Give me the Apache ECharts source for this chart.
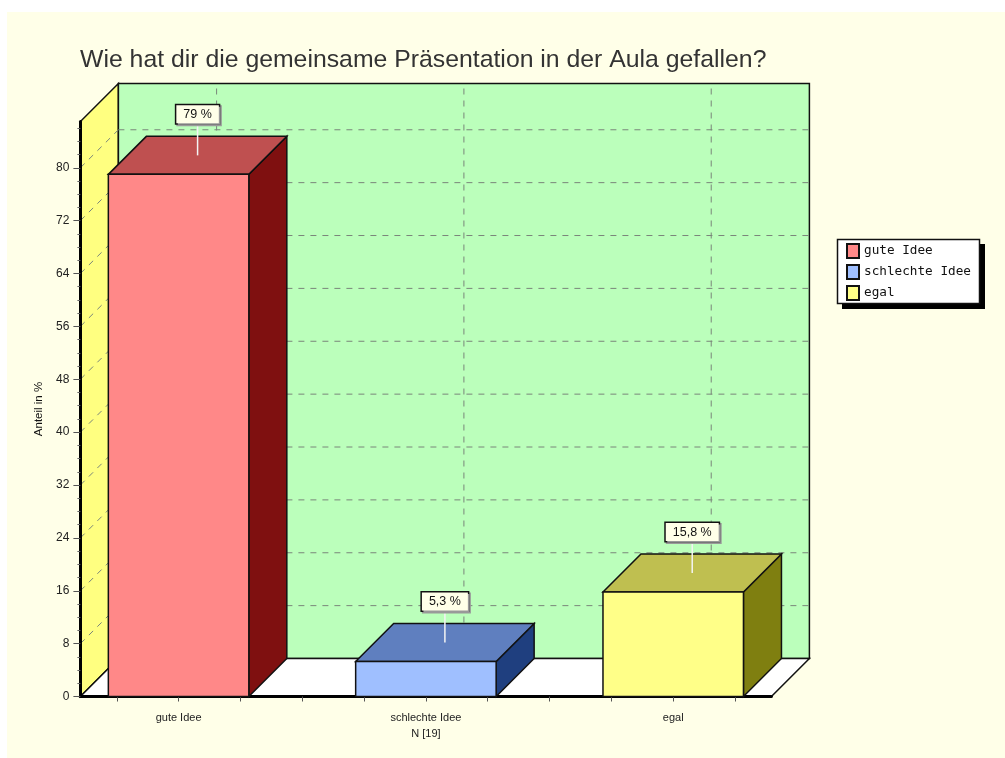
<!DOCTYPE html>
<html>
<head>
<meta charset="utf-8">
<style>html,body{margin:0;padding:0;background:#fff}#c{width:1005px;height:758px}</style>
<script src="https://cdn.jsdelivr.net/npm/echarts@6/dist/echarts.min.js"></script>
</head>
<body>
<div id="c"></div>
<script>
const titleText = 'Wie hat dir die gemeinsame Präsentation in der Aula gefallen?';
const categories = ['gute Idee', 'schlechte Idee\nN [19]', 'egal'];
const seriesNames = ['gute Idee', 'schlechte Idee', 'egal'];
const values = [79, 5.3, 15.8];
const valueLabels = ['79 %', '5,3 %', '15,8 %'];
const yTicks = [0, 8, 16, 24, 32, 40, 48, 56, 64, 72, 80];
const xTicks = [-0.25, 0, 0.25, 0.5, 0.75, 1, 1.25, 1.5, 1.75, 2, 2.25];
const xCenters = [0, 1, 2];
const yMax = 87;
const xMin = -0.397, xMax = 2.397;
const barHalf = 0.284;
const depth = 38;
const frontColors = ['#FF8888', '#9FBFFF', '#FFFF88'];
const topColors = ['#BF5050', '#5F7FBF', '#BFBF50'];
const sideColors = ['#7F1010', '#1F3F7F', '#7F7F10'];

const chart = echarts.init(document.getElementById('c'), null, {renderer: 'canvas'});

function poly(points, fill, z2) {
  return {type: 'polygon', z2: z2 || 0, shape: {points}, style: {fill, stroke: '#111', lineWidth: 1.5, lineJoin: 'miter'}};
}
function dashed(a, b) {
  return {type: 'line', z2: 5, shape: {x1: a[0], y1: a[1], x2: b[0], y2: b[1]},
    style: {stroke: '#7a867a', lineWidth: 1, lineDash: [6, 6]}};
}
function renderWalls(params, api) {
  const o = api.coord([xMin, 0]);
  const tl = api.coord([xMin, yMax]);
  const br = api.coord([xMax, 0]);
  const back = (p) => [p[0] + depth, p[1] - depth];
  const children = [
    poly([o, back(o), back(tl), tl], '#FFFF80'),
    poly([back(o), back([br[0], o[1]]), [br[0] + depth, tl[1] - depth], back(tl)], '#BBFFBB'),
    poly([o, back(o), back(br), br], '#FFFFFF')
  ];
  yTicks.slice(1).forEach(v => {
    const p = api.coord([xMin, v]);
    const q = api.coord([xMax, v]);
    children.push(dashed(p, back(p)));
    children.push(dashed(back(p), back(q)));
  });
  xCenters.forEach(c => {
    const p = api.coord([c, 0]);
    const q = api.coord([c, yMax]);
    children.push(dashed(back(p), back(q)));
  });
  return {type: 'group', children};
}
function renderBar(i) {
  return function (params, api) {
    const x = api.value(0), v = api.value(1);
    const a = api.coord([x - barHalf, 0]);
    const b = api.coord([x + barHalf, 0]);
    const c = api.coord([x + barHalf, v]);
    const d = api.coord([x - barHalf, v]);
    const s = (p) => [p[0] + depth, p[1] - depth];
    const mx = (d[0] + c[0]) / 2 + depth / 2;
    const my = d[1] - depth / 2;
    return {type: 'group', children: [
      poly([b, s(b), s(c), c], sideColors[i], 1),
      poly([d, c, s(c), s(d)], topColors[i], 1),
      poly([a, b, c, d], frontColors[i], 2),
      {type: 'line', z2: 3, shape: {x1: mx, y1: my, x2: mx, y2: my - 32},
        style: {stroke: '#F4F4F4', lineWidth: 1.5}},
      {type: 'text', z2: 4, x: mx, y: my - 32, style: {
        text: valueLabels[i], align: 'center', verticalAlign: 'bottom',
        font: '12.5px "Liberation Sans"', fill: '#111',
        backgroundColor: '#FFFFE8', borderColor: '#111', borderWidth: 1.5,
        padding: [3, 7, 2, 7], shadowColor: '#999', shadowOffsetX: 1.5, shadowOffsetY: 1.5, shadowBlur: 0
      }}
    ]};
  };
}

const barSeries = seriesNames.map((name, i) => ({
  type: 'custom', name, z: 4, clip: false,
  itemStyle: {color: frontColors[i], borderColor: '#111', borderWidth: 1},
  renderItem: renderBar(i),
  encode: {x: 0, y: 1},
  data: [[xCenters[i], values[i]]]
}));

chart.setOption({
  animation: false,
  backgroundColor: '#FFFFFF',
  graphic: [
    {type: 'rect', z: -10, silent: true, shape: {x: 7, y: 12, width: 998, height: 746}, style: {fill: '#FFFFE8'}},
    {type: 'rect', z: 5, silent: true, shape: {x: 842, y: 244, width: 143, height: 65}, style: {fill: '#000'}},
    {type: 'rect', z: 6, silent: true, shape: {x: 837.5, y: 239.5, width: 142, height: 64}, style: {fill: '#fff', stroke: '#111', lineWidth: 1.5}}
  ],
  title: {
    text: titleText, left: 80, top: 47.5, padding: 0,
    textStyle: {fontFamily: 'Liberation Sans', fontSize: 24.8, fontWeight: 'normal', color: '#333'}
  },
  legend: {
    data: seriesNames, orient: 'vertical', left: 837, top: 239, align: 'left', z: 10,
    icon: 'rect', itemWidth: 12, itemHeight: 14, itemGap: 5, padding: [4, 6, 4, 9],
    selectedMode: false,
    textStyle: {fontFamily: 'DejaVu Sans Mono', fontSize: 12.7, color: '#111'}
  },
  grid: {left: 80.4, top: 121.5, width: 691, height: 575, containLabel: false},
  xAxis: {
    type: 'value', min: xMin, max: xMax, z: 3,
    splitLine: {show: false},
    axisLine: {show: true, lineStyle: {color: '#000', width: 3}},
    axisTick: {show: true, length: 5, customValues: xTicks, lineStyle: {color: '#555', width: 1}},
    axisLabel: {
      customValues: xCenters, margin: 13, lineHeight: 16,
      fontFamily: 'Liberation Sans', fontSize: 11, color: '#222',
      formatter: (v) => categories[Math.round(v)]
    }
  },
  yAxis: {
    type: 'value', min: 0, max: yMax, interval: 8, z: 3,
    name: 'Anteil in %', nameLocation: 'middle', nameGap: 23, nameRotate: 90,
    nameTextStyle: {fontFamily: 'Liberation Sans', fontSize: 11.5, color: '#111'},
    splitLine: {show: false},
    axisLine: {show: true, onZero: false, lineStyle: {color: '#000', width: 3}},
    axisTick: {show: true, length: 7, customValues: yTicks, lineStyle: {color: '#555', width: 1}},
    minorTick: {show: true, splitNumber: 4, length: 3, lineStyle: {color: '#666', width: 1}},
    axisLabel: {
      customValues: yTicks, margin: 11,
      fontFamily: 'Liberation Sans', fontSize: 12, color: '#222'
    }
  },
  series: [{
    type: 'custom', name: 'walls', z: 1, clip: false, silent: true,
    renderItem: renderWalls, data: [[0, 0]], encode: {x: 0, y: 1}
  }].concat(barSeries)
});
</script>
</body>
</html>
